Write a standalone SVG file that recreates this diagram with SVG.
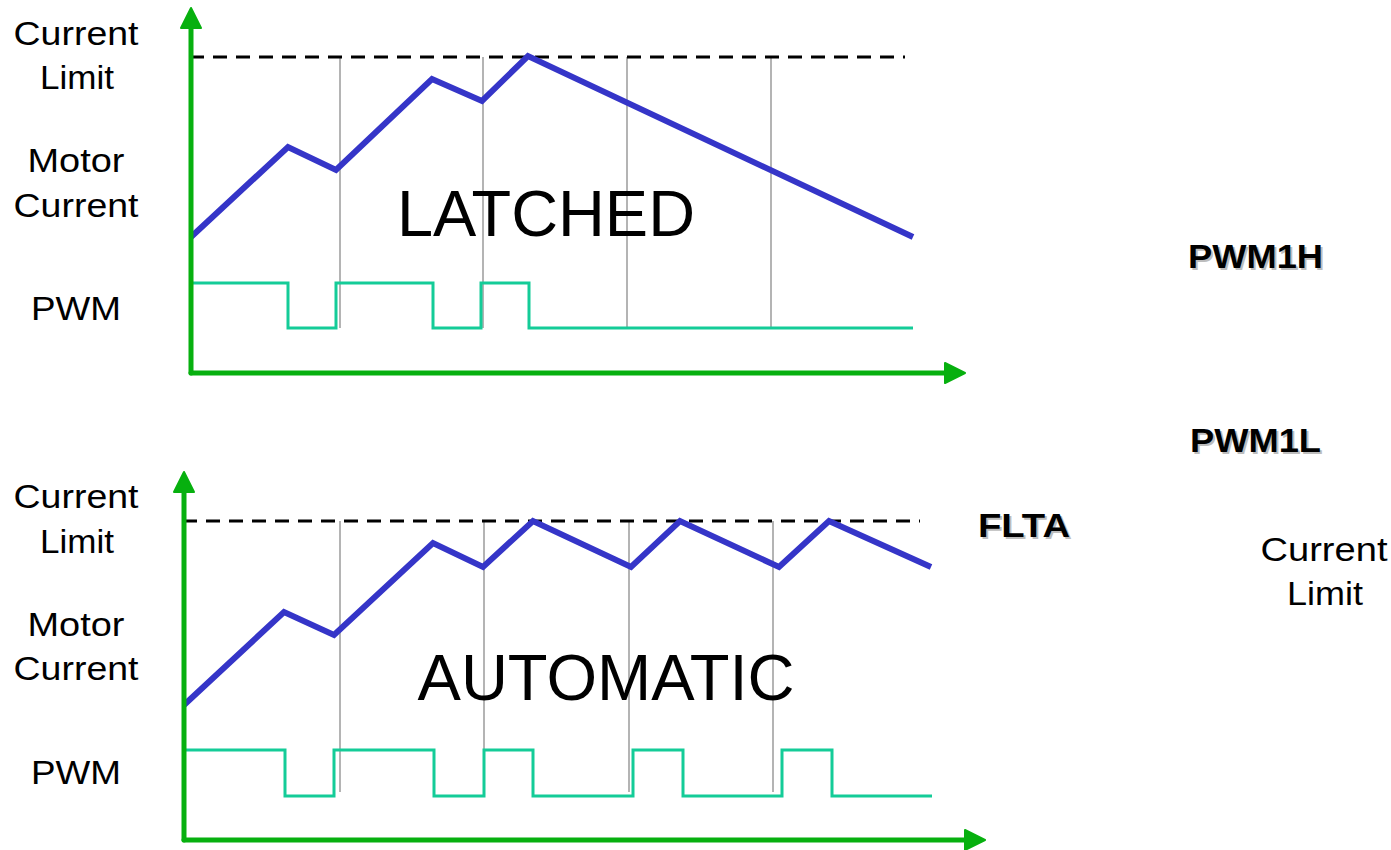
<svg xmlns="http://www.w3.org/2000/svg" width="1391" height="850" viewBox="0 0 1391 850">
  <style>
    text { font-family: "Liberation Sans", Arial, sans-serif; }
    .lbl { font-size: 33px; fill: #000; text-anchor: middle; }
    .big { font-size: 64px; fill: #000; text-anchor: middle; }
    .sig { font-size: 34px; font-weight: bold; fill: #000; }
    .sigsh { font-size: 34px; font-weight: bold; fill: #bdbdbd; }
    .axis { stroke: #07b00f; stroke-width: 5; fill: none; stroke-linecap: round; stroke-linejoin: round; }
    .limit { stroke: #000; stroke-width: 3; stroke-dasharray: 14 9; fill: none; }
    .current { stroke: #3535c8; stroke-width: 6; fill: none; stroke-linejoin: miter; }
    .pwm { stroke: #14cc98; stroke-width: 3; fill: none; stroke-linejoin: miter; }
    .tick { stroke: #b4b4b4; stroke-width: 2; fill: none; }
  </style>
  <defs>
    <marker id="arrow" viewBox="0 0 24 24" refX="4" refY="12" markerWidth="24" markerHeight="24" markerUnits="userSpaceOnUse" orient="auto">
      <path d="M2,2 L22,12 L2,22 Z" fill="#07b00f" stroke="#07b00f" stroke-width="2" stroke-linejoin="round"/>
    </marker>
  </defs>
  <rect width="1391" height="850" fill="#fff"/>

  <!-- Latched fault mode -->
  <g id="latched-panel">
    <g id="latched-labels">
      <text class="lbl" x="76" y="45" textLength="125" lengthAdjust="spacingAndGlyphs">Current</text>
      <text class="lbl" x="77" y="89" textLength="74" lengthAdjust="spacingAndGlyphs">Limit</text>
      <text class="lbl" x="76" y="172" textLength="97" lengthAdjust="spacingAndGlyphs">Motor</text>
      <text class="lbl" x="76" y="217" textLength="125" lengthAdjust="spacingAndGlyphs">Current</text>
      <text class="lbl" x="76" y="320" textLength="90" lengthAdjust="spacingAndGlyphs">PWM</text>
    </g>
    <g id="latched-ticks">
      <line class="tick" x1="340" y1="57" x2="340" y2="328"/>
      <line class="tick" x1="483" y1="57" x2="483" y2="328"/>
      <line class="tick" x1="627" y1="57" x2="627" y2="328"/>
      <line class="tick" x1="771" y1="57" x2="771" y2="328"/>
    </g>
    <line id="latched-limit" class="limit" x1="190" y1="57" x2="905" y2="57"/>
    <polyline id="latched-current" class="current" points="191,237 288,147 336,170 432,79 482,101 528,56 913,237"/>
    <polyline id="latched-pwm" class="pwm" points="191,283 288,283 288,328 336,328 336,283 433,283 433,328 481,328 481,283 529,283 529,328 913,328"/>
    <text id="latched-title" class="big" x="546" y="236" textLength="298" lengthAdjust="spacingAndGlyphs">LATCHED</text>
  </g>

  <!-- Automatic fault mode -->
  <g id="automatic-panel">
    <g id="automatic-labels">
      <text class="lbl" x="76" y="508" textLength="125" lengthAdjust="spacingAndGlyphs">Current</text>
      <text class="lbl" x="77" y="553" textLength="74" lengthAdjust="spacingAndGlyphs">Limit</text>
      <text class="lbl" x="76" y="636" textLength="97" lengthAdjust="spacingAndGlyphs">Motor</text>
      <text class="lbl" x="76" y="680" textLength="125" lengthAdjust="spacingAndGlyphs">Current</text>
      <text class="lbl" x="76" y="784" textLength="90" lengthAdjust="spacingAndGlyphs">PWM</text>
    </g>
    <g id="automatic-ticks">
      <line class="tick" x1="340" y1="521" x2="340" y2="792"/>
      <line class="tick" x1="484" y1="521" x2="484" y2="792"/>
      <line class="tick" x1="629" y1="521" x2="629" y2="792"/>
      <line class="tick" x1="773" y1="521" x2="773" y2="792"/>
    </g>
    <line id="automatic-limit" class="limit" x1="183" y1="521" x2="920" y2="521"/>
    <polyline id="automatic-current" class="current" points="184,705 284,612 334,635 433,543 483,567 533,521 631,567 680,521 779,567 829,521 931,567"/>
    <polyline id="automatic-pwm" class="pwm" points="185,750 285,750 285,796 334,796 334,750 434,750 434,796 484,796 484,750 533,750 533,796 633,796 633,750 683,750 683,796 782,796 782,750 832,750 832,796 932,796"/>
    <text id="automatic-title" class="big" x="606" y="700" textLength="377" lengthAdjust="spacingAndGlyphs">AUTOMATIC</text>
  </g>

  <!-- Axes -->
  <g id="connectors">
    <path class="axis" d="M191,373 L191,26" marker-end="url(#arrow)"/>
    <path class="axis" d="M191,373 L947,373" marker-end="url(#arrow)"/>
    <path class="axis" d="M184,840 L184,490" marker-end="url(#arrow)"/>
    <path class="axis" d="M184,840 L967,840" marker-end="url(#arrow)"/>
  </g>

  <!-- Signal names -->
  <g id="signal-pwm1h">
    <text class="sigsh" x="1190" y="270" textLength="135" lengthAdjust="spacingAndGlyphs">PWM1H</text>
    <text class="sig" x="1188" y="268" textLength="135" lengthAdjust="spacingAndGlyphs">PWM1H</text>
  </g>
  <g id="signal-pwm1l">
    <text class="sigsh" x="1192" y="454" textLength="131" lengthAdjust="spacingAndGlyphs">PWM1L</text>
    <text class="sig" x="1190" y="452" textLength="131" lengthAdjust="spacingAndGlyphs">PWM1L</text>
  </g>
  <g id="signal-flta">
    <text class="sigsh" x="980" y="539" textLength="92" lengthAdjust="spacingAndGlyphs">FLTA</text>
    <text class="sig" x="978" y="537" textLength="92" lengthAdjust="spacingAndGlyphs">FLTA</text>
  </g>
  <g id="signal-current-limit">
    <text class="lbl" x="1324" y="561" textLength="127" lengthAdjust="spacingAndGlyphs">Current</text>
    <text class="lbl" x="1325" y="605" textLength="76" lengthAdjust="spacingAndGlyphs">Limit</text>
  </g>
</svg>
